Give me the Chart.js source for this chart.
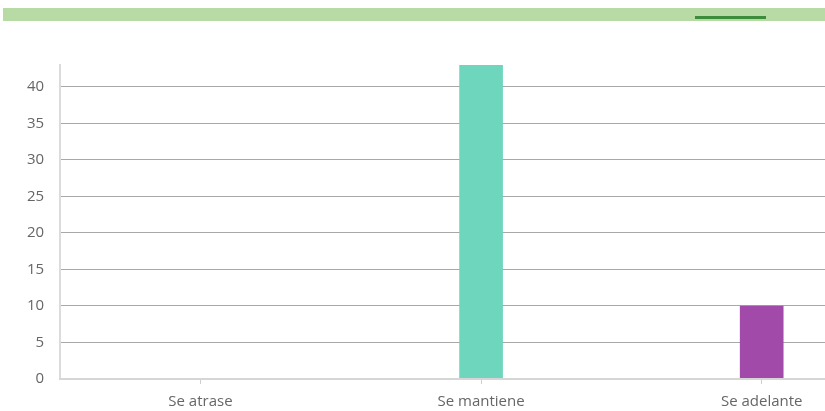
<!DOCTYPE html>
<html>
<head>
<meta charset="utf-8">
<script src="https://cdn.jsdelivr.net/npm/chart.js@4"></script>
<style>
  body { margin: 0; background: #fff; overflow: hidden; }
  .band { position: absolute; left: 3px; top: 8px; width: 822px; height: 13px; background: #b8dba5; }
  .tab { position: absolute; left: 695px; top: 16px; width: 71px; height: 3px; background: #3d8c3b; }
  .wrap { position: absolute; left: 0; top: 40px; width: 906px; height: 380px; overflow: hidden; }
</style>
</head>
<body>
<div class="band"></div>
<div class="tab"></div>
<div class="wrap"><canvas id="c" width="906" height="380"></canvas></div>
<script>
const categories = ["Se atrase", "Se mantiene", "Se adelante"];
const counts = [0, 43, 10];
const barColors = ["#6ed6bc", "#6ed6bc", "#a24aa9"];

const font = { family: "'Open Sans', 'Noto Sans', sans-serif", size: 15 };

new Chart(document.getElementById("c"), {
    type: "bar",
    data: {
        labels: categories,
        datasets: [{
            data: counts,
            backgroundColor: barColors,
            barThickness: 43
        }]
    },
    options: {
        responsive: false,
        animation: false,
        layout: { padding: { top: 4, left: 11, right: 4, bottom: 0 } },
        plugins: { legend: { display: false }, tooltip: { enabled: false } },
        scales: {
            x: {
                grid: { drawOnChartArea: false, offset: false, tickLength: 5, color: "#cfcfcf" },
                border: { color: "#d6d6d6", width: 2, z: 1 },
                ticks: { color: "#666", font, padding: 9 }
            },
            y: {
                min: 0,
                max: 43,
                afterBuildTicks: (scale) => {
                    scale.ticks = scale.ticks.filter(t => t.value % 5 === 0);
                },
                grid: { drawTicks: false, color: "#a8a8a8" },
                border: { color: "#dcdcdc", width: 2 },
                ticks: { stepSize: 5, color: "#666", font, padding: 16 }
            }
        }
    }
});
</script>
</body>
</html>
